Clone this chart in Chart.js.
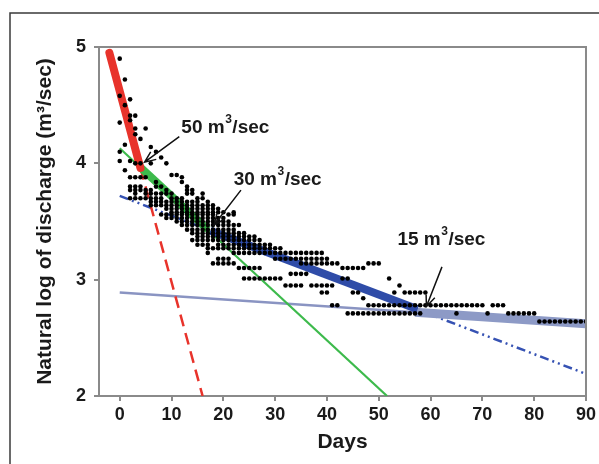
<!DOCTYPE html>
<html>
<head>
<meta charset="utf-8">
<script src="https://cdn.jsdelivr.net/npm/chart.js@4.4.0/dist/chart.umd.min.js"></script>
<style>
  html, body { margin: 0; padding: 0; background: #fff; }
  #wrap { position: relative; width: 599px; height: 464px; }
</style>
</head>
<body>
<div id="wrap"><canvas id="dischargeChart" width="599" height="464"></canvas></div>
<script>
// axis ticks
const xTicks = [0, 10, 20, 30, 40, 50, 60, 70, 80, 90];
const yTicks = [2, 3, 4, 5];

// observed daily values: [ln discharge, days on which it was recorded]
const observedRows = [
  [4.90, [0]],
  [4.72, [1]],
  [4.58, [0]],
  [4.55, [2]],
  [4.50, [1]],
  [4.41, [2, 3]],
  [4.37, [2]],
  [4.35, [0]],
  [4.30, [3, 5]],
  [4.25, [3]],
  [4.21, [4]],
  [4.16, [1]],
  [4.14, [6]],
  [4.10, [0, 7]],
  [4.05, [8]],
  [4.02, [0, 2]],
  [4.00, [3, 4, 6, 9]],
  [3.94, [1]],
  [3.90, [10, 11]],
  [3.88, [2, 3, 4, 5, 12]],
  [3.84, [7, 12]],
  [3.80, [2, 3, 4, 7, 8, 13]],
  [3.77, [2, 3, 4, 5, 6, 9, 13, 14]],
  [3.74, [3, 5, 6, 7, 8, 9, 10, 13, 14, 16]],
  [3.70, [2, 3, 4, 5, 6, 7, 8, 10, 11, 12, 15, 16]],
  [3.67, [6, 7, 8, 9, 10, 11, 12, 13, 14, 15, 17]],
  [3.64, [6, 7, 8, 9, 10, 11, 12, 13, 14, 15, 16, 17, 18]],
  [3.61, [9, 10, 11, 12, 13, 14, 15, 16, 17, 18, 19]],
  [3.58, [10, 11, 12, 13, 14, 15, 16, 17, 18, 19, 20, 22]],
  [3.56, [8, 9, 10, 11, 12, 13, 14, 15, 16, 17, 18, 21, 22]],
  [3.53, [9, 10, 11, 12, 13, 14, 15, 16, 17, 18, 19, 20]],
  [3.50, [11, 12, 13, 14, 15, 16, 17, 18, 19, 20, 21]],
  [3.47, [12, 13, 14, 15, 16, 17, 18, 19, 20, 21, 22, 23]],
  [3.43, [13, 14, 15, 16, 17, 18, 19, 20, 21, 22]],
  [3.40, [14, 15, 16, 17, 18, 19, 20, 21, 22, 23, 24]],
  [3.37, [15, 16, 17, 18, 19, 20, 21, 22, 23, 24, 25, 26]],
  [3.34, [14, 15, 16, 17, 18, 19, 20, 21, 22, 23, 24, 25, 26, 27]],
  [3.30, [15, 16, 17, 19, 20, 21, 22, 23, 24, 25, 26, 27, 28, 29]],
  [3.27, [17, 18, 19, 20, 21, 22, 23, 24, 25, 26, 27, 28, 29, 30, 31]],
  [3.23, [17, 22, 23, 24, 25, 26, 27, 28, 29, 30, 31, 32, 33, 34, 35, 36, 37, 38, 39]],
  [3.18, [19, 20, 21, 30, 31, 32, 33, 34, 35, 36, 37, 38, 39, 40]],
  [3.14, [18, 19, 20, 21, 22, 35, 36, 37, 38, 39, 40, 41, 42, 48, 49, 50]],
  [3.10, [23, 24, 25, 26, 27, 43, 44, 45, 46, 47]],
  [3.05, [33, 34, 35, 36]],
  [3.01, [24, 25, 26, 27, 28, 29, 30, 31, 43, 44, 52]],
  [2.95, [32, 33, 34, 35, 37, 38, 39, 40, 41, 54]],
  [2.89, [39, 40, 45, 46, 53, 55, 56, 57, 58, 59]],
  [2.84, [47]],
  [2.78, [41, 42, 48, 49, 50, 51, 52, 53, 54, 55, 56, 57, 58, 59, 60, 61, 62, 63, 64, 65, 66, 67, 68, 69, 70, 72, 73, 74]],
  [2.71, [44, 45, 46, 47, 48, 49, 50, 51, 52, 53, 54, 55, 56, 57, 58, 65, 71, 75, 76, 77, 78, 79, 80]],
  [2.64, [81, 82, 83, 84, 85, 86, 87, 88, 89, 90]]
];

// fitted recession segments, [day, ln Q] end points
const redFit = [[-2, 4.95], [4, 3.96]];
const redExt = [[4, 3.96], [16, 2.0]];
const greenFit = [[4, 3.965], [17, 3.43]];
const greenExt = [[0, 4.13], [51.6, 2.0]];
const blueFit = [[17.5, 3.42], [57.5, 2.745]];
const blueExt = [[0, 3.72], [90, 2.19]];
const slateFit = [[57, 2.72], [90, 2.62]];
const slateExt = [[0, 2.89], [90, 2.62]];

// callout labels: text corner, arrow tail, arrow head (data units)
const callouts = [
  { label: '50', at: [11.9, 4.31], from: [11.5, 4.23], to: [4.8, 4.01] },
  { label: '30', at: [22.0, 3.86], from: [23.4, 3.77], to: [18.2, 3.47] },
  { label: '15', at: [53.6, 3.34], from: [62.2, 3.11], to: [59.2, 2.77] }
];

const FONT = "'Liberation Sans', Arial, sans-serif";
const AXIS_GREY = '#8a8a8a';

const dots = [];
observedRows.forEach(([lnq, days]) => days.forEach(d => dots.push({ x: d, y: lnq })));

const pts = arr => arr.map(([x, y]) => ({ x, y }));

function fitLine(data, color, width, dash, cap) {
  return {
    data: pts(data),
    showLine: true,
    borderColor: color,
    backgroundColor: color,
    borderWidth: width,
    borderDash: dash || [],
    borderCapStyle: cap || 'butt',
    pointRadius: 0,
    pointHoverRadius: 0
  };
}

// outer frame (left + top only) and the plot box top/right edges
const framePlugin = {
  id: 'frame',
  beforeDraw(chart) {
    const c = chart.ctx;
    c.save();
    c.strokeStyle = '#3a3a3a';
    c.lineWidth = 1.5;
    c.beginPath();
    c.moveTo(10, 464);
    c.lineTo(10, 13);
    c.lineTo(599, 13);
    c.stroke();
    c.restore();
  },
  afterDraw(chart) {
    const { ctx: c, chartArea: a } = chart;
    c.save();
    c.strokeStyle = AXIS_GREY;
    c.lineWidth = 2;
    c.beginPath();
    c.moveTo(a.left - 1, a.top);
    c.lineTo(a.right, a.top);
    c.lineTo(a.right, a.bottom);
    c.stroke();
    c.restore();
  }
};

// "NN m³/sec" labels with arrows
const calloutPlugin = {
  id: 'callouts',
  afterDraw(chart) {
    const c = chart.ctx;
    const xs = chart.scales.x, ys = chart.scales.y;
    c.save();
    callouts.forEach(k => {
      const tx = xs.getPixelForValue(k.at[0]);
      const ty = ys.getPixelForValue(k.at[1]);
      c.fillStyle = '#1a1a1a';
      c.textBaseline = 'middle';
      c.font = 'bold 19px ' + FONT;
      let s = k.label + ' m';
      c.fillText(s, tx, ty);
      let w = c.measureText(s).width;
      c.font = 'bold 12px ' + FONT;
      c.fillText('3', tx + w + 0.5, ty - 8);
      w += c.measureText('3').width + 1;
      c.font = 'bold 19px ' + FONT;
      c.fillText('/sec', tx + w, ty);

      const x0 = xs.getPixelForValue(k.from[0]), y0 = ys.getPixelForValue(k.from[1]);
      const x1 = xs.getPixelForValue(k.to[0]), y1 = ys.getPixelForValue(k.to[1]);
      const ang = Math.atan2(y1 - y0, x1 - x0);
      c.strokeStyle = '#111';
      c.lineWidth = 1.5;
      c.beginPath();
      c.moveTo(x0, y0);
      c.lineTo(x1, y1);
      c.moveTo(x1 - 12 * Math.cos(ang - 0.4), y1 - 12 * Math.sin(ang - 0.4));
      c.lineTo(x1, y1);
      c.lineTo(x1 - 12 * Math.cos(ang + 0.4), y1 - 12 * Math.sin(ang + 0.4));
      c.stroke();
    });
    c.restore();
  }
};

const ctx = document.getElementById('dischargeChart').getContext('2d');

new Chart(ctx, {
  type: 'scatter',
  data: {
    datasets: [
      { data: dots, pointRadius: 2.3, pointHoverRadius: 2.3, backgroundColor: '#000', borderWidth: 0 },
      fitLine(redFit, '#e8332b', 8, null, 'round'),
      fitLine(greenFit, '#3dba4c', 8),
      fitLine(blueFit, '#2f4ca8', 8),
      fitLine(slateFit, '#8d9ac6', 9),
      fitLine(redExt, '#e8332b', 2.5, [12, 7]),
      fitLine(greenExt, '#3dba4c', 2.2),
      fitLine(blueExt, '#3652b3', 2.5, [9, 4, 2, 4, 2, 4]),
      fitLine(slateExt, '#8a94c2', 2.5)
    ]
  },
  options: {
    responsive: false,
    animation: false,
    devicePixelRatio: 1,
    layout: { padding: { left: 33, top: 47, right: 9, bottom: 9 } },
    plugins: { legend: { display: false }, tooltip: { enabled: false } },
    scales: {
      x: {
        type: 'linear',
        min: -4,
        max: 90,
        afterBuildTicks: s => { s.ticks = xTicks.map(v => ({ value: v })); },
        afterFit: s => { s.height = 59; },
        grid: { drawOnChartArea: false, drawTicks: true, tickLength: 5, color: AXIS_GREY, lineWidth: 2 },
        border: { display: true, color: AXIS_GREY, width: 2 },
        ticks: { color: '#1a1a1a', padding: 3, maxRotation: 0, font: { family: FONT, size: 18, weight: 'bold' } },
        title: { display: true, text: 'Days', color: '#1a1a1a', padding: 0, font: { family: FONT, size: 21, weight: 'bold' } }
      },
      y: {
        type: 'linear',
        min: 2,
        max: 5,
        afterBuildTicks: s => { s.ticks = yTicks.map(v => ({ value: v })); },
        afterFit: s => { s.width = 66; },
        grid: { drawOnChartArea: false, drawTicks: true, tickLength: 5, color: AXIS_GREY, lineWidth: 2 },
        border: { display: true, color: AXIS_GREY, width: 2 },
        ticks: { color: '#1a1a1a', padding: 8, font: { family: FONT, size: 18, weight: 'bold' } },
        title: { display: true, text: 'Natural log of discharge (m³/sec)', color: '#1a1a1a', padding: 0, font: { family: FONT, size: 21, weight: 'bold' } }
      }
    }
  },
  plugins: [framePlugin, calloutPlugin]
});
</script>
</body>
</html>
